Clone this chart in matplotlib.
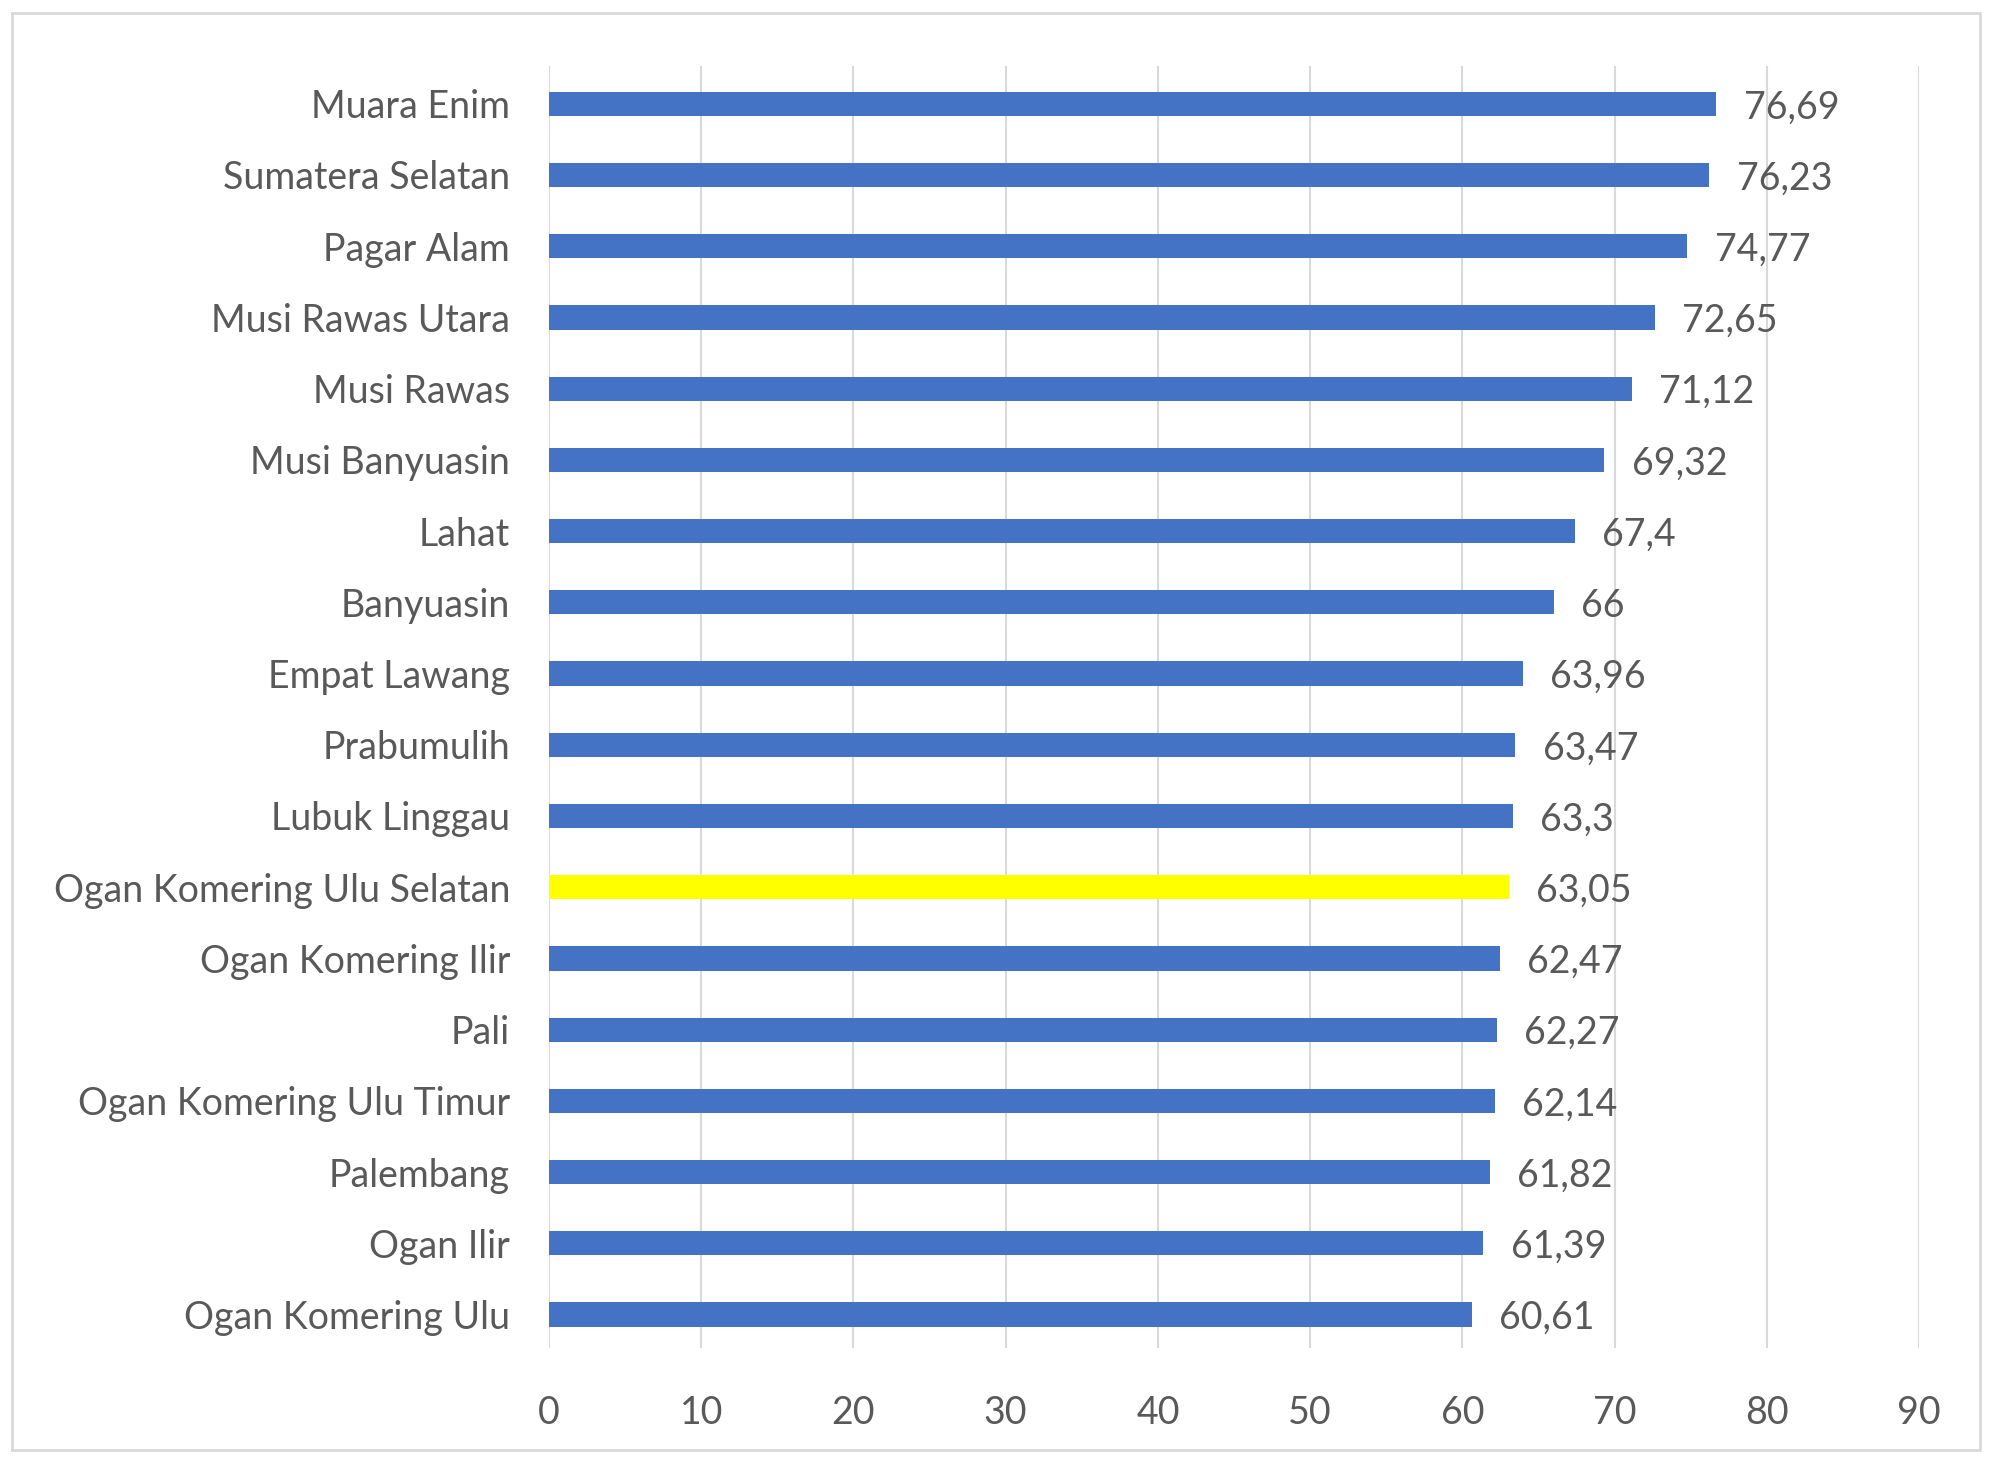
import matplotlib
matplotlib.use("Agg")
import matplotlib.pyplot as plt
from matplotlib.patches import Rectangle

categories = ["Muara Enim", "Sumatera Selatan", "Pagar Alam", "Musi Rawas Utara",
              "Musi Rawas", "Musi Banyuasin", "Lahat", "Banyuasin", "Empat Lawang",
              "Prabumulih", "Lubuk Linggau", "Ogan Komering Ulu Selatan",
              "Ogan Komering Ilir", "Pali", "Ogan Komering Ulu Timur", "Palembang",
              "Ogan Ilir", "Ogan Komering Ulu"]
values = [76.69, 76.23, 74.77, 72.65, 71.12, 69.32, 67.4, 66, 63.96, 63.47, 63.3,
          63.05, 62.47, 62.27, 62.14, 61.82, 61.39, 60.61]
value_labels = ["76,69", "76,23", "74,77", "72,65", "71,12", "69,32", "67,4", "66",
                "63,96", "63,47", "63,3", "63,05", "62,47", "62,27", "62,14", "61,82",
                "61,39", "60,61"]
highlight = "Ogan Komering Ulu Selatan"
xticks = [0, 10, 20, 30, 40, 50, 60, 70, 80, 90]

plt.rcParams['font.family'] = ['Lato', 'Open Sans', 'DejaVu Sans']
text_color = "#595959"
fs = 27

fig = plt.figure(figsize=(19.89, 14.58), dpi=100)
fig.patch.set_facecolor("white")
fig.add_artist(Rectangle((12/1989, 1 - 1450/1458), (1980-12)/1989, (1450-13)/1458,
                         transform=fig.transFigure, fill=False,
                         edgecolor="#D9D9D9", linewidth=2))

ax = fig.add_axes([549/1989, 1 - 1348/1458, (1919-549)/1989, (1348-66)/1458])
ypos = list(range(len(categories)))
colors = ["#FFFF00" if c == highlight else "#4472C4" for c in categories]
ax.barh(ypos, values, height=0.34, color=colors, zorder=3)
for y, v, lab in zip(ypos, values, value_labels):
    ax.text(v + 1.8, y + 0.05, lab, va="center", ha="left", fontsize=fs, color=text_color)

ax.set_ylim(len(categories) - 0.53, -0.53)
ax.set_xlim(0, 90)
ax.set_xticks(xticks)
ax.set_xticklabels([str(t) for t in xticks], fontsize=fs, color=text_color)
ax.set_yticks(ypos)
ax.set_yticklabels(categories, fontsize=fs, color=text_color)
ax.tick_params(axis="both", length=0)
ax.tick_params(axis="x", pad=34)
ax.tick_params(axis="y", pad=28)
ax.grid(axis="x", color="#D9D9D9", linewidth=1.5, zorder=0)
for s in ax.spines.values():
    s.set_visible(False)

fig.savefig("out.png", dpi=100)
